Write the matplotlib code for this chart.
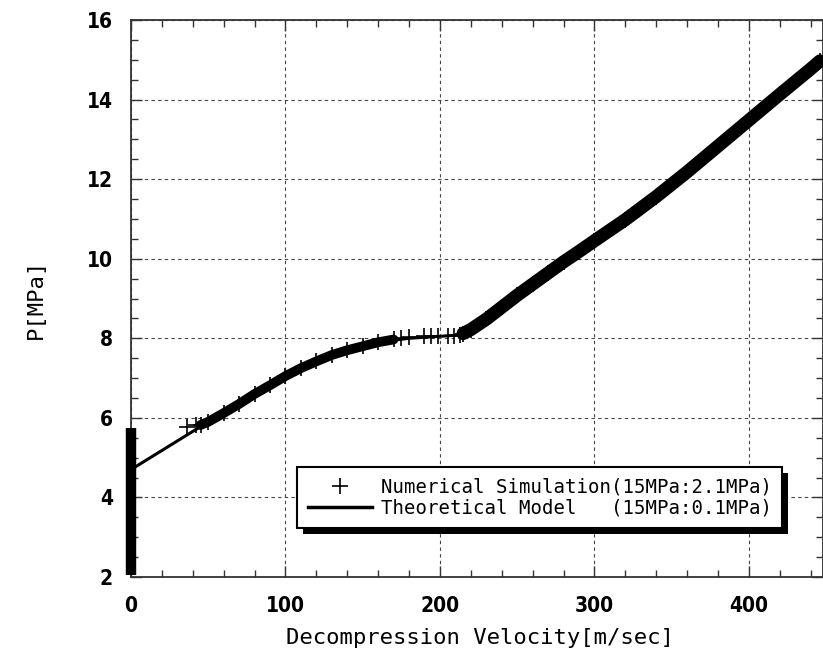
import matplotlib
matplotlib.use("Agg")
import matplotlib.pyplot as plt
from matplotlib.patches import Rectangle
from matplotlib.ticker import MultipleLocator
from matplotlib.lines import Line2D
from matplotlib import font_manager
from matplotlib.font_manager import FontProperties

# Theoretical model (15MPa:0.1MPa)
theory_u = [0, 20, 40, 60, 80, 100, 120, 140, 160, 180, 200, 212, 220, 240, 260,
            280, 300, 320, 340, 360, 380, 400, 420, 440, 448]
theory_p = [4.70, 5.18, 5.66, 6.13, 6.60, 7.05, 7.42, 7.70, 7.90, 8.00, 8.05, 8.08,
            8.22, 8.78, 9.36, 9.92, 10.45, 10.98, 11.56, 12.18, 12.83, 13.48, 14.13,
            14.77, 15.00]

# Numerical simulation (15MPa:2.1MPa) - dense band segments
sim_band1_u = [45, 50, 60, 70, 80, 90, 100, 110, 120, 130, 140, 150, 160, 170]
sim_band1_p = [5.82, 5.90, 6.12, 6.35, 6.60, 6.82, 7.05, 7.25, 7.42, 7.58, 7.70,
               7.80, 7.90, 7.97]
sim_band2_u = [215, 220, 230, 240, 250, 260, 270, 280, 290, 300, 320, 340, 360,
               380, 400, 420, 440, 446]
sim_band2_p = [8.12, 8.22, 8.48, 8.78, 9.08, 9.36, 9.64, 9.92, 10.18, 10.45, 10.98,
               11.56, 12.18, 12.83, 13.48, 14.13, 14.77, 14.97]
# sparse simulation points
sim_pts_u = [36, 42, 175, 180, 190, 194, 199, 205, 209, 213]
sim_pts_p = [5.78, 5.82, 8.00, 8.02, 8.05, 8.05, 8.05, 8.05, 8.06, 8.08]
# simulation plateau at zero velocity
sim_zero_u = [0, 0]
sim_zero_p = [2.05, 5.75]

xticks = [0, 100, 200, 300, 400]
yticks = [2, 4, 6, 8, 10, 12, 14, 16]

W, H = 823, 657
fig = plt.figure(figsize=(W / 100, H / 100), dpi=100)
ax = fig.add_axes([131 / W, 1 - 577 / H, (823 - 131) / W, (577 - 20) / H])

mono = "DejaVu Sans Mono"
names = {f.name for f in font_manager.fontManager.ttflist}
cond = font_manager.findfont(FontProperties(family="DejaVu Sans", stretch="condensed",
                                            weight="bold"), fallback_to_default=True)
if "Liberation Sans Narrow" in names:
    tick_fp = FontProperties(family="Liberation Sans Narrow", size=16, weight="bold")
elif "Condensed" in cond:
    tick_fp = FontProperties(fname=cond, size=15)
else:
    tick_fp = FontProperties(family="Liberation Sans", size=15, weight="bold")

# grid
ax.grid(True, which="major", color="#444444", linestyle=(0, (3, 3)), linewidth=0.8)
ax.set_axisbelow(True)

# theoretical line
ax.plot(theory_u, theory_p, color="black", lw=2.2, zorder=3)

# simulation
ax.plot(sim_band1_u, sim_band1_p, color="black", lw=7, zorder=3,
        solid_capstyle="round", solid_joinstyle="round")
ax.plot(sim_band2_u, sim_band2_p, color="black", lw=9.5, zorder=3,
        solid_capstyle="round", solid_joinstyle="round")
ax.plot(sim_band1_u + sim_pts_u + sim_band2_u, sim_band1_p + sim_pts_p + sim_band2_p,
        linestyle="none", marker="+", ms=11, mew=1.2, color="black", zorder=3)
ax.plot(sim_zero_u, sim_zero_p, color="black", lw=7.5, solid_capstyle="butt",
        zorder=4, clip_on=False)

ax.set_xlim(0, 448)
ax.set_ylim(2, 16)
ax.xaxis.set_minor_locator(MultipleLocator(20))
ax.yaxis.set_minor_locator(MultipleLocator(0.5))
ax.set_xticks(xticks)
ax.set_yticks(yticks)
ax.tick_params(which="both", direction="in", top=True, right=True, color="#333333")
ax.tick_params(which="major", length=8, width=1.0)
ax.tick_params(which="minor", length=5, width=1.0)
ax.tick_params(axis="x", which="major", pad=14)
ax.tick_params(axis="y", which="major", pad=13)
for lab in ax.get_xticklabels() + ax.get_yticklabels():
    lab.set_fontproperties(tick_fp)
for sp in ax.spines.values():
    sp.set_color("#333333")
    sp.set_linewidth(1.3)

ax.set_xlabel("Decompression Velocity[m/sec]", family=mono, fontsize=16)
ax.xaxis.set_label_coords(0.504, -0.092)
ax.set_ylabel("P[MPa]", family=mono, fontsize=16)
ax.yaxis.set_label_coords(-0.123, 0.5)

# legend
h1 = Line2D([], [], linestyle="none", marker="+", ms=11, mew=1.2, color="black")
h2 = Line2D([], [], color="black", lw=2.5)
leg = ax.legend([h1, h2],
                ["Numerical Simulation(15MPa:2.1MPa)",
                 "Theoretical Model   (15MPa:0.1MPa)"],
                loc="lower left", bbox_to_anchor=(0.24, 0.088),
                prop={"family": mono, "size": 13.7},
                frameon=True, fancybox=False, framealpha=1, edgecolor="black",
                handlelength=3.4, handletextpad=0.45, labelspacing=0.1,
                borderpad=0.55, borderaxespad=0)
leg.get_frame().set_linewidth(1.5)
leg.set_zorder(6)

fig.canvas.draw()
bb = leg.get_window_extent()
off = 6
inv = ax.transAxes.inverted()
(x0, y0) = inv.transform((bb.x0 + off, bb.y0 - off))
(x1, y1) = inv.transform((bb.x1 + off, bb.y1 - off))
ax.add_patch(Rectangle((x0, y0), x1 - x0, y1 - y0, transform=ax.transAxes,
                       facecolor="black", edgecolor="none", zorder=5.5,
                       clip_on=False))

fig.savefig("out.png", dpi=100)
